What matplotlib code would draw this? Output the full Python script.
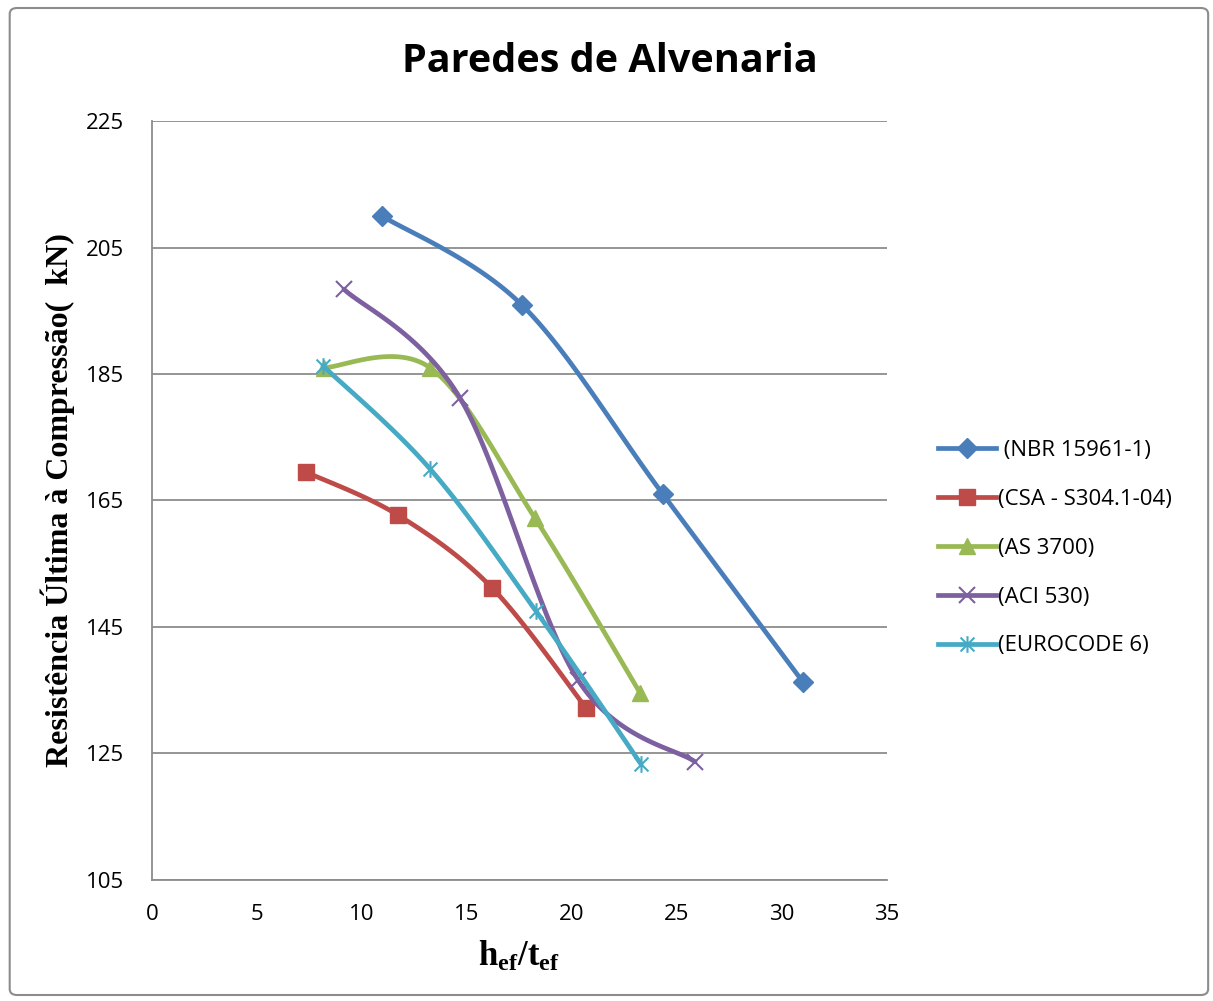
import numpy as np
import matplotlib
matplotlib.use('Agg')
import matplotlib.pyplot as plt
from matplotlib.path import Path
from matplotlib.patches import FancyBboxPatch

plt.rcParams['mathtext.fontset'] = 'custom'
plt.rcParams['mathtext.rm'] = 'Liberation Serif'
plt.rcParams['mathtext.bf'] = 'Liberation Serif:bold'

# data
labels = [' (NBR 15961-1)', '(CSA - S304.1-04)', '(AS 3700)', '(ACI 530)',
          '(EUROCODE 6)']
nbr_x = [10.95, 17.62, 24.33, 31.0]
nbr_y = [210.0, 195.9, 166.0, 136.3]
csa_x = [7.33, 11.71, 16.19, 20.67]
csa_y = [169.5, 162.7, 151.2, 132.2]
as_x = [8.19, 13.24, 18.24, 23.24]
as_y = [186.0, 186.0, 162.2, 134.6]
aci_x = [9.14, 14.67, 20.29, 25.86]
aci_y = [198.4, 181.2, 136.6, 123.7]
euro_x = [8.14, 13.24, 18.29, 23.29]
euro_y = [186.3, 170.0, 147.5, 123.3]

series = [(nbr_x, nbr_y), (csa_x, csa_y), (as_x, as_y), (aci_x, aci_y),
          (euro_x, euro_y)]
colors = ['#4A7EBB', '#BE4B48', '#98B954', '#7D60A0', '#46AAC5']

star = Path([(-1, -1), (1, 1), (-1, 1), (1, -1), (0, -1.2), (0, 1.2)],
            [Path.MOVETO, Path.LINETO, Path.MOVETO, Path.LINETO,
             Path.MOVETO, Path.LINETO])
markers = ['D', 's', '^', 'x', star]
msizes = [10, 12, 12, 12, 12]


def smooth(ax, xs, ys, n=40):
    # excel-like smoothed line: cubic bezier through points, done in pixels
    pts = ax.transData.transform(np.column_stack([xs, ys]))
    out = [pts[0]]
    m = len(pts)
    for i in range(m - 1):
        p0 = pts[max(i - 1, 0)]
        p1 = pts[i]
        p2 = pts[i + 1]
        p3 = pts[min(i + 2, m - 1)]
        c1 = p1 + (p2 - p0) / 6.0
        c2 = p2 - (p3 - p1) / 6.0
        t = np.linspace(0, 1, n)[1:, None]
        seg = ((1 - t) ** 3 * p1 + 3 * (1 - t) ** 2 * t * c1
               + 3 * (1 - t) * t ** 2 * c2 + t ** 3 * p2)
        out.extend(seg)
    out = ax.transData.inverted().transform(np.array(out))
    return out[:, 0], out[:, 1]


fig = plt.figure(figsize=(12.13, 10.01), dpi=100)
frame = FancyBboxPatch((0.008, 0.006), 0.988, 0.986,
                       boxstyle='round,pad=0,rounding_size=0.006',
                       transform=fig.transFigure, facecolor='white',
                       edgecolor='#8c8c8c', linewidth=1.5, zorder=-10)
fig.patches.append(frame)

ax = fig.add_axes([0.1253, 0.1209, 0.6059, 0.7582])
ax.set_xlim(0, 35)
ax.set_ylim(105, 225)
ax.set_xticks(np.arange(0, 36, 5))
ax.set_yticks(np.arange(105, 226, 20))
ax.grid(axis='y', color='#8c8c8c', linewidth=1.3)
ax.set_axisbelow(True)
for s in ['top', 'right']:
    ax.spines[s].set_visible(False)
for s in ['left', 'bottom']:
    ax.spines[s].set_color('#8c8c8c')
    ax.spines[s].set_linewidth(1.3)
ax.tick_params(length=0, labelsize=16)
ax.tick_params(axis='x', pad=17)
ax.tick_params(axis='y', pad=20)
for lab in ax.get_xticklabels() + ax.get_yticklabels():
    lab.set_fontfamily('Open Sans')

for (xs, ys), c, mk, ms, lab in zip(series, colors, markers, msizes, labels):
    sx, sy = smooth(ax, xs, ys)
    mew = 1.5 if (mk == 'x' or mk is star) else 1
    ax.plot(sx, sy, '-', color=c, linewidth=3.4, solid_capstyle='round')
    ax.plot(xs, ys, linestyle='none', marker=mk, markersize=ms, color=c,
            markeredgewidth=mew)
    ax.plot([], [], '-', color=c, linewidth=3.4, marker=mk, markersize=ms,
            markeredgewidth=mew, label=lab)

leg = ax.legend(loc='center left', bbox_to_anchor=(1.07, 0.437),
                frameon=False, handlelength=2.6, labelspacing=1.25,
                handletextpad=0.1, borderaxespad=0, borderpad=0,
                prop={'family': 'Open Sans', 'size': 16})

fig.text(610 / 1213, 1 - 61 / 1001, 'Paredes de Alvenaria', fontsize=28.5,
         fontweight='bold', family='Open Sans', ha='center', va='center')
ax.set_ylabel('Resistência Última à Compressão(  kN)', fontsize=23,
              fontweight='bold', family='Liberation Serif', labelpad=8)
ax.set_xlabel(r'$\mathbf{h_{ef}/t_{ef}}$', fontsize=25, labelpad=10)

plt.savefig('out.png', dpi=100)
